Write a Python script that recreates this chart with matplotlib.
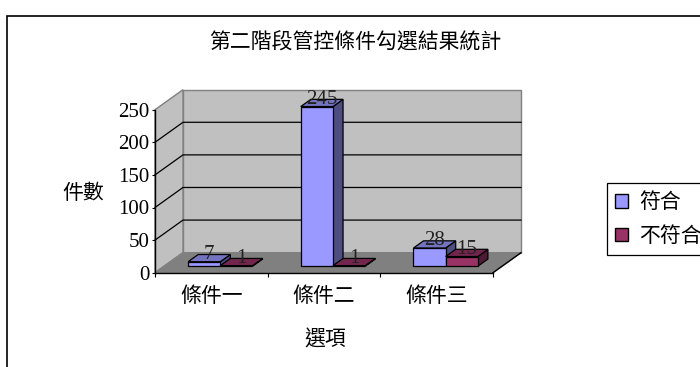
import matplotlib
matplotlib.use("Agg")
import matplotlib.pyplot as plt
from matplotlib.patches import Polygon, Patch, Rectangle

# Chart data
categories = ["條件一", "條件二", "條件三"]
series_names = ["符合", "不符合"]
pass_counts = [7, 245, 28]
fail_counts = [1, 1, 15]
y_ticks = [0, 50, 100, 150, 200, 250]

# face colours per series: front, top, side
series_colors = [("#9999FF", "#7373BF", "#4D4D80"),
                 ("#993366", "#73264D", "#4D1A33")]

CJK = "Noto Sans CJK TC"
NUM = "Liberation Serif"
FS = 15

# pseudo-3D geometry (depth offset in data units)
DX = 0.2485    # categories per full depth
DY = 30.7      # value units per full depth
Z0, Z1 = 0.32, 0.68
BAR_W = 1 / 3.5
GAP = 0.75 * BAR_W


def proj(x, y, z):
    return (x + z * DX, y + z * DY)


def face(ax, pts, fc, ec="black", lw=0.9, z=1):
    ax.add_patch(Polygon([proj(*p) for p in pts], closed=True, fc=fc, ec=ec,
                         lw=lw, clip_on=False, zorder=z))


fig = plt.figure(figsize=(7, 3.67), dpi=100)
ax = fig.add_axes([155 / 700, 1 - 272.7 / 367, 338 / 700, 163 / 367])
ax.set_xlim(0, len(categories))
ax.set_ylim(0, y_ticks[-1])
ax.patch.set_visible(False)

n = len(categories)
top = y_ticks[-1]

# walls and floor
face(ax, [(0, 0, 1), (n, 0, 1), (n, top, 1), (0, top, 1)], "#C0C0C0", "#808080", 1, 0.5)
face(ax, [(0, 0, 0), (0, 0, 1), (0, top, 1), (0, top, 0)], "#C0C0C0", "#808080", 1, 0.5)
face(ax, [(0, 0, 0), (n, 0, 0), (n, 0, 1), (0, 0, 1)], "#808080", "#808080", 1, 0.6)

# gridlines on back and side walls
for v in y_ticks[1:-1]:
    xs, ys = zip(proj(0, v, 0), proj(0, v, 1), proj(n, v, 1))
    ax.plot(xs, ys, color="black", lw=0.9, clip_on=False, zorder=0.8)

# right floor edge
xs, ys = zip(proj(n, 0, 0), proj(n, 0, 1))
ax.plot(xs, ys, color="black", lw=1, clip_on=False, zorder=0.9)

# bars
for i in range(n):
    for s, vals in enumerate([pass_counts, fail_counts]):
        v = vals[i]
        x0 = i + GAP + s * BAR_W
        x1 = x0 + BAR_W
        fc, tc, sc = series_colors[s]
        face(ax, [(x1, 0, Z0), (x1, 0, Z1), (x1, v, Z1), (x1, v, Z0)], sc, z=3)
        face(ax, [(x0, v, Z0), (x1, v, Z0), (x1, v, Z1), (x0, v, Z1)], tc, z=3)
        face(ax, [(x0, 0, Z0), (x1, 0, Z0), (x1, v, Z0), (x0, v, Z0)], fc, z=3)

# data labels
for i in range(n):
    for s, vals in enumerate([pass_counts, fail_counts]):
        v = vals[i]
        xc = i + GAP + (s + 0.5) * BAR_W
        lx, _ = proj(xc, v, 0.5)
        _, ly = proj(xc, v, Z1)
        ax.text(lx, ly, str(v), ha="center", va="center", family=NUM,
                fontsize=FS, color="#222222", zorder=5, clip_on=False)

# axes
for side in ["top", "right"]:
    ax.spines[side].set_visible(False)
for side in ["left", "bottom"]:
    ax.spines[side].set_color("black")
    ax.spines[side].set_linewidth(1)
ax.set_yticks(y_ticks)
ax.set_yticklabels([str(t) for t in y_ticks], family=NUM, fontsize=FS)
ax.tick_params(axis="y", direction="out", length=2, pad=2, colors="black")
ax.set_xticks(range(n + 1))
ax.set_xticklabels([])
ax.tick_params(axis="x", which="major", direction="out", length=3)
ax.set_xticks([i + 0.5 for i in range(n)], minor=True)
ax.set_xticklabels(categories, minor=True, family=CJK, fontsize=FS)
ax.tick_params(axis="x", which="minor", length=0, pad=9)

# titles
fig.text(355 / 700, 1 - 43 / 367, "第二階段管控條件勾選結果統計", family=CJK,
         fontsize=FS, ha="center", va="center")
fig.text(83 / 700, 1 - 193 / 367, "件數", family=CJK, fontsize=FS,
         ha="center", va="center")
fig.text(325 / 700, 1 - 340 / 367, "選項", family=CJK, fontsize=FS,
         ha="center", va="center")

# legend
handles = [Patch(fc=c[0], ec="black", lw=1) for c in series_colors]
leg = fig.legend(handles, series_names, loc="upper left",
                 bbox_to_anchor=(607 / 700, 1 - 183 / 367),
                 bbox_transform=fig.transFigure, fancybox=False,
                 edgecolor="black", framealpha=1, borderaxespad=0,
                 borderpad=0.4, handlelength=0.63, handleheight=0.63,
                 handletextpad=0.5, labelspacing=0.55,
                 prop={"family": CJK, "size": FS})
leg.get_frame().set_linewidth(0.9)

# outer chart border
fig.patches.append(Rectangle((7 / 700, -0.5), 2, 1.5 - 16 / 367 + 0.0,
                             transform=fig.transFigure, fill=False,
                             ec="black", lw=1.2))

fig.savefig("out.png", dpi=100)
